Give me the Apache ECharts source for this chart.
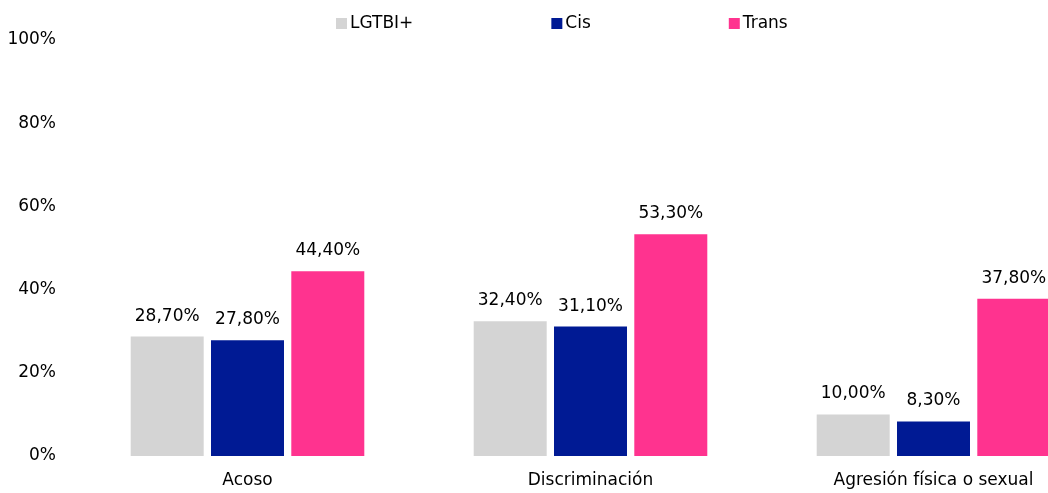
<!DOCTYPE html>
<html><head><meta charset="utf-8">
<script src="https://cdn.jsdelivr.net/npm/echarts@6/dist/echarts.min.js"></script>
<style>html,body{margin:0;padding:0;background:#fff}#c{width:1048px;height:493px}</style>
</head><body><div id="c"></div>
<script>
const categories = ['Acoso', 'Discriminación', 'Agresión física o sexual'];
const seriesNames = ['LGTBI+', 'Cis', 'Trans'];
const lgtbi = [28.7, 32.4, 10.0];
const cis = [27.8, 31.1, 8.3];
const trans = [44.4, 53.3, 37.8];
const colors = ['#D4D4D4', '#001A94', '#FF338F'];
const yTicks = [0, 20, 40, 60, 80, 100];

const font = 'DejaVu Sans';
const fmt = v => v.toFixed(2).replace('.', ',') + '%';
const mk = (name, data, color) => ({
  name, type: 'bar', data, barWidth: 73, barGap: '10%',
  itemStyle: { color },
  label: { show: true, position: 'top', distance: 12, color: '#000', fontFamily: font, fontSize: 17,
    formatter: p => fmt(p.value) }
});
const chart = echarts.init(document.getElementById('c'));
chart.setOption({
  animation: false,
  textStyle: { fontFamily: font },
  legend: {
    top: 10, left: 331, itemGap: 138, itemWidth: 11, itemHeight: 11, icon: 'rect',
    textStyle: { fontFamily: font, fontSize: 17, color: '#000', padding: [0,0,0,-2] },
    data: seriesNames
  },
  grid: { left: 76, width: 1029, top: 40, bottom: 37, containLabel: false, outerBoundsMode: 'none' },
  xAxis: {
    type: 'category', data: categories,
    axisLine: { show: false }, axisTick: { show: false },
    axisLabel: { color: '#000', fontFamily: font, fontSize: 17, margin: 16 }
  },
  yAxis: {
    type: 'value', min: 0, max: 100, interval: 20,
    splitLine: { show: false }, axisLine: { show: false }, axisTick: { show: false },
    axisLabel: { color: '#000', fontFamily: font, fontSize: 17, margin: 20,
      formatter: v => yTicks.includes(v) ? v + '%' : '' }
  },
  series: [mk(seriesNames[0], lgtbi, colors[0]), mk(seriesNames[1], cis, colors[1]), mk(seriesNames[2], trans, colors[2])]
});
</script></body></html>
